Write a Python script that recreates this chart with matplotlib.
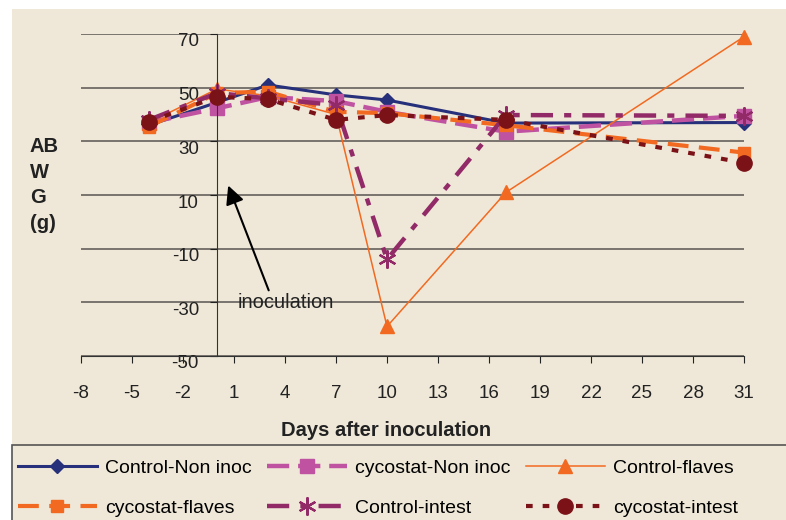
import matplotlib
matplotlib.use('Agg')
import matplotlib.pyplot as plt
from matplotlib.patches import Rectangle
from matplotlib.transforms import ScaledTranslation

plt.rcParams['font.family'] = ['Liberation Sans', 'DejaVu Sans']
plt.rcParams['axes.unicode_minus'] = False

# data
days = [-4, 0, 3, 7, 10, 17, 31]
control_non_inoc = [36.0, 44.5, 51.0, 47.3, 45.4, 36.8, 37.0]
cycostat_non_inoc = [37.0, 42.3, 46.5, 45.0, 41.0, 33.6, 39.5]
control_flaves = [37.0, 49.5, 47.0, 40.0, -39.0, 11.0, 69.0]
cycostat_flaves = [35.5, 48.0, 48.5, 41.0, 40.5, 36.0, 25.8]
control_intest = [38.0, 48.0, 46.0, 43.5, -14.0, 39.8, 39.5]
cycostat_intest = [37.3, 46.6, 45.7, 38.0, 39.8, 38.0, 22.0]

x_ticks = [-8, -5, -2, 1, 4, 7, 10, 13, 16, 19, 22, 25, 28, 31]
y_ticks = [-50, -30, -10, 10, 30, 50, 70]

bg = '#efe8d8'
W, H = 786, 520

fig = plt.figure(figsize=(7.86, 5.2), dpi=100, facecolor='white')
fig.add_artist(Rectangle((12 / W, 0), 1, 1 - 9 / H, transform=fig.transFigure,
                         facecolor=bg, edgecolor='none', zorder=-5))

ax = fig.add_axes([81 / W, 1 - 356 / H, (744 - 81) / W, (356 - 34) / H])
ax.set_facecolor('none')

series = [
    ('Control-Non inoc', control_non_inoc, dict(color='#27307a', lw=2.2, ls='-', marker='D', ms=7)),
    ('cycostat-Non inoc', cycostat_non_inoc, dict(color='#c052a2', lw=3.2, dashes=(5, 2), marker='s', ms=10)),
    ('Control-flaves', control_flaves, dict(color='#f26a21', lw=1.1, ls='-', marker='^', ms=10)),
    ('cycostat-flaves', cycostat_flaves, dict(color='#f26a21', lw=3.0, dashes=(5, 2.5), marker='s', ms=9)),
    ('Control-intest', control_intest, dict(color='#922a68', lw=3.2, dashes=(5, 2.5, 1.6, 2.5), marker=(6, 2, 0), ms=13, mew=1.6)),
    ('cycostat-intest', cycostat_intest, dict(color='#7b1218', lw=3.0, dashes=(1.6, 2.4), marker='o', ms=11)),
]

handles = []
for name, vals, st in series:
    ln, = ax.plot(days, vals, label=name, clip_on=False, **st)
    handles.append(ln)

ax.set_xlim(-8, 31)
ax.set_ylim(-50, 70)
ax.set_xticks(x_ticks)
ax.set_yticks(y_ticks)

ax.spines['top'].set_visible(False)
ax.spines['right'].set_visible(False)
ax.spines['left'].set_position(('data', 0))
ax.spines['left'].set_color('#333333')
ax.spines['bottom'].set_color('#333333')
ax.yaxis.grid(True, color='#6f6b65', lw=1.3)
ax.set_axisbelow(True)

ax.tick_params(axis='y', direction='out', length=5, pad=8, labelsize=13.5, colors='#222222')
ax.tick_params(axis='x', direction='out', length=5, pad=16, labelsize=13.5, colors='#222222')
for lbl in ax.get_yticklabels():
    lbl.set_transform(lbl.get_transform() + ScaledTranslation(0, -0.06, fig.dpi_scale_trans))

fig.text(386 / W, 1 - 431 / H, 'Days after inoculation', fontsize=14.5, fontweight='bold',
         ha='center', va='center', color='#222222')
fig.text(30 / W, 1 - 185 / H, 'AB\nW\nG\n(g)', fontsize=14.5, fontweight='bold',
         ha='left', va='center', linespacing=1.45, color='#222222')

# inoculation arrow
ax.annotate('', xy=(0.6, 14.5), xytext=(3.1, -26.5),
            arrowprops=dict(arrowstyle='-|>', mutation_scale=28, color='black', lw=1.5))
ax.text(1.2, -30, 'inoculation', fontsize=14.5, ha='left', va='center', color='#222222')

# legend in Excel's row order
order = [0, 3, 1, 4, 2, 5]
fig.legend([handles[i] for i in order], [series[i][0] for i in order],
           ncol=3, loc='upper left', bbox_to_anchor=(0, 1 - 442 / H),
           frameon=False, fontsize=14, handlelength=4.1, columnspacing=0.8,
           handletextpad=0.4, labelspacing=1.15)
fig.add_artist(Rectangle((12 / W, -0.05), 1.0, (H - 445) / H + 0.05, transform=fig.transFigure,
                         facecolor='none', edgecolor='#555555', lw=1.2))

fig.savefig('out.png', dpi=100, facecolor='white')
